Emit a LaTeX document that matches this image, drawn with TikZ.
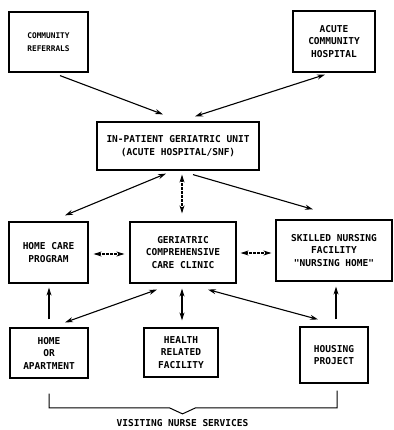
\documentclass[tikz,border=0pt]{standalone}
\usepackage{fontspec}
\setmonofont{DejaVu Sans Mono}
\usetikzlibrary{arrows.meta,positioning,calc}

\begin{document}
\begin{tikzpicture}[x=1pt, y=-1pt,
  every node/.style={font=\ttfamily\bfseries\fontsize{9.5}{12.5}\selectfont},
  box/.style={draw, line width=1.2pt, align=center, inner sep=0pt},
  arr/.style={-{Stealth[length=8pt,width=5pt]}, line width=1.1pt},
  dbl/.style={{Stealth[length=8pt,width=5pt]}-{Stealth[length=8pt,width=5pt]}, line width=1.1pt},
  dsh/.style={dbl, dash pattern=on 3pt off 1pt}]
\useasboundingbox (0,0) rectangle (393,430);
% top row
\node[box, minimum width=79pt, minimum height=60pt, font=\ttfamily\bfseries\fontsize{7.8}{13}\selectfont] (referrals) at (48.5,42) {COMMUNITY\\REFERRALS};
\node[box, minimum width=82pt, minimum height=61pt] (hospital) at (334,41.5) {ACUTE\\COMMUNITY\\HOSPITAL};
% geriatric unit
\node[box, minimum width=162pt, minimum height=48pt] (unit) at (178,146) {IN-PATIENT GERIATRIC UNIT\\(ACUTE HOSPITAL/SNF)};
% middle row
\node[box, minimum width=79pt, minimum height=61pt] (homecare) at (48.5,252.5) {HOME CARE\\PROGRAM};
\node[box, minimum width=106pt, minimum height=61pt] (clinic) at (183,252.5) {GERIATRIC\\COMPREHENSIVE\\CARE CLINIC};
\node[box, minimum width=116pt, minimum height=61pt] (snf) at (334,250.5) {SKILLED NURSING\\FACILITY\\"NURSING HOME"};
% bottom row
\node[box, minimum width=78pt, minimum height=50pt] (home) at (49,353) {HOME\\OR\\APARTMENT};
\node[box, minimum width=74pt, minimum height=49pt] (hrf) at (181,352.5) {HEALTH\\RELATED\\FACILITY};
\node[box, minimum width=68pt, minimum height=56pt] (housing) at (334,355) {HOUSING\\PROJECT};
\node (nurse) at (182.5,423) {VISITING NURSE SERVICES};

\draw[arr] ($(referrals.south)+(11.5,3)$) -- ($(unit.north)+(-15,-7)$);
\draw[dbl] ($(hospital.south)+(-9,2)$) -- ($(unit.north)+(17,-5)$);
\draw[dbl] ($(unit.south)+(-12,3)$) -- ($(homecare.north)+(16.5,-6)$);
\draw[dsh] ($(unit.south)+(4,4)$) -- ($(clinic.north)+(-1,-8)$);
\draw[arr] ($(unit.south)+(15,4)$) -- ($(snf.north)+(-21,-10)$);
\draw[dsh] ($(homecare.east)+(5,1.5)$) -- ($(clinic.west)+(-5,1.5)$);
\draw[dsh] ($(clinic.east)+(4,0.5)$) -- ($(snf.west)+(-4,2.5)$);
\draw[arr] ($(home.north)+(0,-8)$) -- ($(homecare.south)+(0.5,4)$);
\draw[dbl] ($(clinic.south)+(-26,6)$) -- ($(home.north)+(16,-5)$);
\draw[dbl] ($(clinic.south)+(-1,5)$) -- ($(hrf.north)+(1,-7)$);
\draw[dbl] ($(clinic.south)+(25,6)$) -- ($(housing.north)+(-16,-7)$);
\draw[arr] ($(housing.north)+(2,-7)$) -- ($(snf.south)+(2,5)$);
% visiting nurse bracket
\coordinate (bl) at ($(home.south)+(0,15)$);
\coordinate (br) at ($(housing.south)+(3,7)$);
\coordinate (tip) at ($(nurse.north)+(0,-2)$);
\draw[line width=1pt] (bl) |- ($(tip)+(-13,-6)$) -- (tip) -- ($(tip)+(13,-6)$) -| (br);
\end{tikzpicture}
\end{document}
